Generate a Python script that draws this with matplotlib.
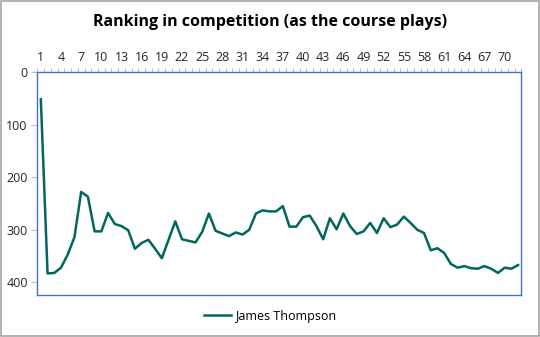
import matplotlib.pyplot as plt
from matplotlib.patches import Rectangle

# ranking per hole (as the course plays)
holes = list(range(1, 73))
ranking = [52, 383, 382, 372, 347, 314, 228, 237, 303, 303,
           268, 289, 293, 301, 336, 325, 319, 336, 354, 319,
           284, 318, 321, 324, 304, 269, 302, 307, 312, 305,
           309, 300, 269, 263, 265, 265, 255, 294, 294, 276,
           273, 293, 318, 278, 299, 269, 293, 308, 303, 287,
           306, 278, 295, 290, 275, 287, 300, 306, 339, 335,
           344, 365, 372, 369, 373, 374, 369, 374, 382, 372,
           374, 367]
player = "James Thompson"
x_labels = list(range(1, 71, 3))
y_ticks = [0, 100, 200, 300, 400]

plt.rcParams['font.family'] = ['Open Sans', 'DejaVu Sans']

fig = plt.figure(figsize=(5.4, 3.37), dpi=100)
ax = fig.add_axes([0.0694, 0.1261, 0.8963, 0.6603])

ax.plot(holes, ranking, color="#00665E", linewidth=1.8, label=player)

ax.set_xlim(0.5, 72.5)
ax.set_ylim(423, 0)

# x axis on top, labels every 3rd hole, small ticks at every category
ax.xaxis.tick_top()
ax.set_xticks(x_labels)
ax.set_xticks([h - 0.5 for h in holes] + [72.5], minor=True)
ax.tick_params(axis="x", which="major", length=0, pad=6, labelsize=9, labelcolor="#262626")
ax.tick_params(axis="x", which="minor", length=3, color="#BFBFBF", width=0.8)

ax.set_yticks(y_ticks)
ax.tick_params(axis="y", length=4, color="#BFBFBF", width=0.8, pad=3, labelsize=9, labelcolor="#262626")

for s in ax.spines.values():
    s.set_color("#4472C4")
    s.set_linewidth(1.0)

fig.suptitle("Ranking in competition (as the course plays)", y=0.958,
             fontsize=11.5, fontweight="bold")

fig.legend(loc="center", bbox_to_anchor=(0.5, 0.062), frameon=False,
           fontsize=9, handlelength=2.2, handletextpad=0.3)

# chart frame
fig.patches.append(Rectangle((0.001, 0.002), 0.997, 0.995, transform=fig.transFigure,
                             fill=False, edgecolor="#A6A6A6", linewidth=1.2))

fig.savefig("out.png", dpi=100)
